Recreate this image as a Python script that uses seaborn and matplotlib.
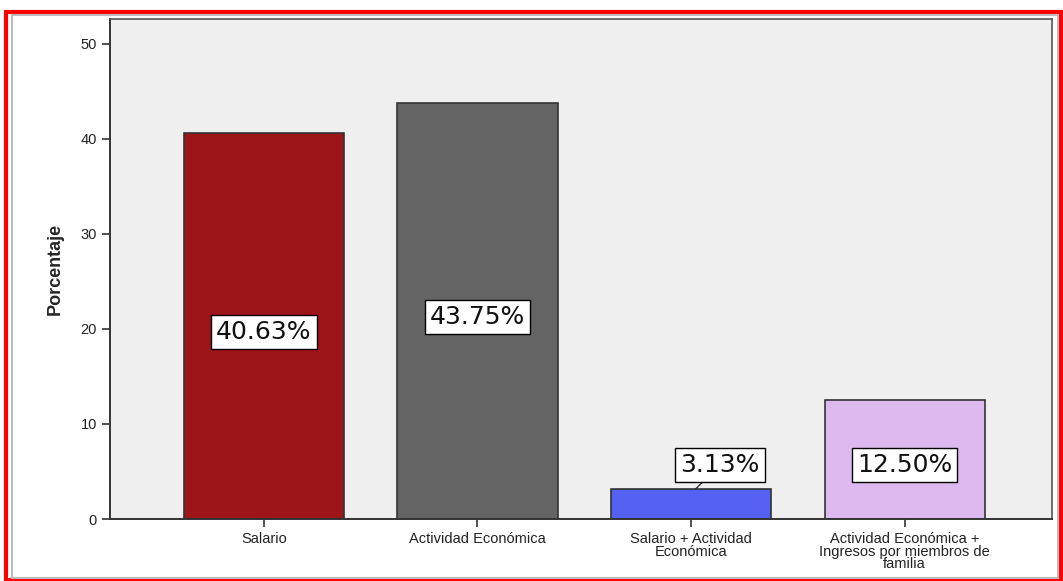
import pandas as pd
import matplotlib.pyplot as plt
import seaborn as sns
from matplotlib.patches import Rectangle

# Data
categories = ['Salario', 'Actividad Económica', 'Salario + Actividad\nEconómica',
              'Actividad Económica +\nIngresos por miembros de\nfamilia']
porcentajes = [40.63, 43.75, 3.13, 12.50]
etiquetas = ['40.63%', '43.75%', '3.13%', '12.50%']
colores = ['#9E1519', '#646464', '#5561F2', '#DDB9EF']

df = pd.DataFrame({'categoria': categories, 'porcentaje': porcentajes})

sns.set_style('white')
plt.rcParams['font.family'] = ['Liberation Sans', 'DejaVu Sans']
fig = plt.figure(figsize=(10.63, 5.81), dpi=100)
ax = fig.add_axes([0.1035, 0.1067, 0.8862, 0.8603])

sns.barplot(data=df, x='categoria', y='porcentaje', hue='categoria', palette=colores,
            legend=False, width=0.75, edgecolor='#333333', linewidth=1.2, ax=ax, saturation=1)

ax.set_facecolor('#EFEFEF')
ax.set_xlim(-0.72, 3.69)
ax.set_ylim(0, 52.6)
ax.set_yticks([0, 10, 20, 30, 40, 50])
ax.tick_params(axis='both', direction='out', length=6, width=1.2, color='#333333',
               labelsize=10.5, labelcolor='#222222', left=True, bottom=True)
ax.set_xlabel('')
ax.set_ylabel('Porcentaje', fontsize=13, fontweight='bold', labelpad=12)
for s in ['left', 'bottom']:
    ax.spines[s].set_color('#333333')
    ax.spines[s].set_linewidth(1.4)
for s in ['top', 'right']:
    ax.spines[s].set_color('#555555')
    ax.spines[s].set_linewidth(1.2)
for lab in ax.get_xticklabels():
    lab.set_linespacing(0.85)

box = dict(boxstyle='square,pad=0.2', fc='white', ec='black', lw=1)
lbl_font = dict(fontsize=18, family='DejaVu Sans', color='#111111')
for i, (v, t) in enumerate(zip(porcentajes, etiquetas)):
    if v < 5:
        ax.annotate(t, xy=(i + 0.02, v), xytext=(i + 0.135, 5.7), ha='center', va='center',
                    bbox=box, **lbl_font,
                    arrowprops=dict(arrowstyle='-', color='#333333', lw=1, shrinkA=0, shrinkB=0))
    else:
        ax.text(i, v / 2 - 0.6, t, ha='center', va='center', bbox=box, **lbl_font)

# marco rojo exterior
fig.patches.append(Rectangle((0.006, 0.002), 0.992, 0.978, transform=fig.transFigure,
                             fill=False, ec='red', lw=3))
fig.patches.append(Rectangle((0.011, 0.006), 0.984, 0.968, transform=fig.transFigure,
                             fill=False, ec='#BBBBBB', lw=1.5))

fig.savefig('out.png', dpi=100)
